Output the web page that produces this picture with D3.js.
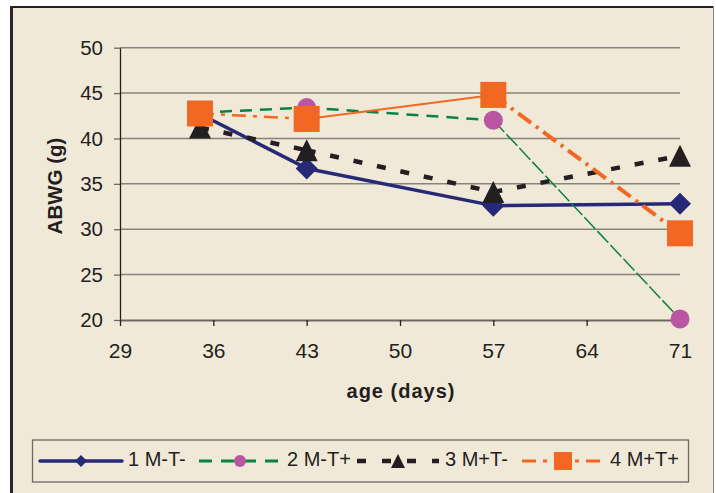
<!DOCTYPE html>
<html><head><meta charset="utf-8">
<script src="https://cdn.jsdelivr.net/npm/d3@7"></script>
<style>
body{margin:0;background:#fff;}
svg{display:block;font-family:"Liberation Sans",Arial,Helvetica,sans-serif;}
</style>
</head><body>
<svg id="c" width="716" height="493"></svg>
<script>
// ---- data ----
const ages = [35, 43, 57, 71];
const xTicks = [29, 36, 43, 50, 57, 64, 71];
const yTicks = [20, 25, 30, 35, 40, 45, 50];
const seriesNames = ["1 M-T-", "2 M-T+", "3 M+T-", "4 M+T+"];
const s1 = [42.7, 36.7, 32.6, 32.8];
const s2 = [42.85, 43.4, 42.0, 20.1];
const s3 = [41.2, 38.7, 34.1, 38.1];
const s4 = [42.75, 42.15, 44.8, 29.55];
const seriesValues = [s1, s2, s3, s4];

// ---- styles ----
const styles = [
  {color:"#262a76", marker:"diamond", fill:"#262a76",
   segs:[{w:3.5,d:null},{w:3.5,d:null},{w:3.5,d:null}], leg:{w:3.5,d:null}},
  {color:"#0b8240", marker:"circle", fill:"#b955a2",
   segs:[{w:2.5,d:"12,8"},{w:2.5,d:"12,8"},{w:1.5,d:"16,3"}], leg:{w:3,d:"13,9"}},
  {color:"#231f20", marker:"triangle", fill:"#231f20",
   segs:[{w:4.5,d:"9,15"},{w:4.5,d:"9,15"},{w:4.5,d:"9,15"}], leg:{w:4.5,d:"9,16"}},
  {color:"#f26722", marker:"square", fill:"#f26722",
   segs:[{w:2.5,d:"14,7,4,7"},{w:2,d:null},{w:4,d:"16,6,3,6"}], leg:{w:3,d:"14,7,4,7"}}
];

const svg = d3.select("#c");
const bg = "#f1e9d8";

// frame
svg.append("rect").attr("x",10).attr("y",6).attr("width",703).attr("height",500).attr("fill",bg);
svg.append("line").attr("x1",10).attr("x2",714).attr("y1",7).attr("y2",7).attr("stroke","#231f20").attr("stroke-width",2);
svg.append("line").attr("x1",11.5).attr("x2",11.5).attr("y1",6).attr("y2",493).attr("stroke","#2b2728").attr("stroke-width",3);
svg.append("line").attr("x1",713.5).attr("x2",713.5).attr("y1",6).attr("y2",493).attr("stroke","#8a8580").attr("stroke-width",1);

const x = d3.scaleLinear().domain([29, 71]).range([120, 680]);
const y = d3.scaleLinear().domain([20, 50]).range([320, 47.7]);

// gridlines
svg.append("g").selectAll("line").data(yTicks.slice(1)).join("line")
  .attr("x1", x(29)).attr("x2", x(71))
  .attr("y1", d => y(d)).attr("y2", d => y(d))
  .attr("stroke", "#87827d").attr("stroke-width", 1.5);

// y axis
const yAxis = svg.append("g").attr("transform", `translate(${x(29)},0)`)
  .call(d3.axisLeft(y).tickValues(yTicks).tickSize(6).tickPadding(11).tickSizeOuter(0));
yAxis.select(".domain").attr("stroke", "#231f20").attr("stroke-width", 1.3);
yAxis.selectAll(".tick line").attr("stroke", "#6d6862").attr("stroke-width", 1.3);
yAxis.selectAll(".tick text").attr("font-size", 20.5).attr("fill", "#231f20").attr("font-family", null);

// x axis
const xAxis = svg.append("g").attr("transform", `translate(0,${y(20)})`)
  .call(d3.axisBottom(x).tickValues(xTicks).tickSize(6).tickPadding(17).tickSizeOuter(0));
xAxis.select(".domain").attr("stroke", "#6d6862").attr("stroke-width", 2);
xAxis.selectAll(".tick line").attr("stroke", "#231f20").attr("stroke-width", 1.3);
xAxis.selectAll(".tick text").attr("font-size", 21).attr("fill", "#231f20").attr("font-family", null);

// axis titles
svg.append("text").attr("transform", "translate(62,186) rotate(-90)")
  .attr("text-anchor", "middle").attr("font-weight", "bold").attr("font-size", 20.5)
  .attr("fill", "#231f20").text("ABWG (g)");
svg.append("text").attr("x", 401).attr("y", 398)
  .attr("text-anchor", "middle").attr("font-weight", "bold").attr("font-size", 20)
  .attr("letter-spacing", 1)
  .attr("fill", "#231f20").text("age (days)");

// marker drawing
function marker(g, type, cx, cy, size, fill) {
  const h = size / 2;
  if (type === "diamond") {
    g.append("path").attr("d", `M${cx},${cy-h}L${cx+h},${cy}L${cx},${cy+h}L${cx-h},${cy}Z`).attr("fill", fill);
  } else if (type === "circle") {
    g.append("circle").attr("cx", cx).attr("cy", cy).attr("r", h).attr("fill", fill);
  } else if (type === "triangle") {
    g.append("path").attr("d", `M${cx},${cy-h}L${cx+h},${cy+h}L${cx-h},${cy+h}Z`).attr("fill", fill);
  } else {
    g.append("rect").attr("x", cx-h).attr("y", cy-h).attr("width", size).attr("height", size).attr("fill", fill);
  }
}
const mSize = {diamond:22, circle:19, triangle:22, square:26};
const lSize = {diamond:12, circle:12, triangle:14, square:18};

// series
seriesValues.forEach((vals, i) => {
  const st = styles[i];
  const g = svg.append("g");
  const pts = ages.map((a, j) => [x(a), y(vals[j])]);
  for (let j = 0; j < pts.length - 1; j++) {
    const sg = st.segs[j];
    g.append("path").attr("d", d3.line()([pts[j], pts[j+1]]))
      .attr("fill", "none").attr("stroke", st.color).attr("stroke-width", sg.w)
      .attr("stroke-dasharray", sg.d);
  }
  pts.forEach(p => marker(g, st.marker, p[0], p[1], mSize[st.marker], st.fill));
});

// legend
const lg = svg.append("g");
lg.append("rect").attr("x", 32.5).attr("y", 440).attr("width", 656).attr("height", 42)
  .attr("fill", "none").attr("stroke", "#6d6862").attr("stroke-width", 1.3);
const legStarts = [40, 199, 357, 522];
const legLen = 82;
const ly = 461;
seriesNames.forEach((name, i) => {
  const st = styles[i];
  const x0 = legStarts[i];
  lg.append("line").attr("x1", x0).attr("x2", x0 + legLen).attr("y1", ly).attr("y2", ly)
    .attr("stroke", st.color).attr("stroke-width", st.leg.w)
    .attr("stroke-dasharray", st.leg.d)
    .attr("stroke-linecap", i === 0 ? "round" : "butt");
  marker(lg, st.marker, x0 + legLen / 2, ly, lSize[st.marker], st.fill);
  lg.append("text").attr("x", x0 + legLen + 6).attr("y", 466)
    .attr("font-size", 20).attr("fill", "#231f20").text(name);
});
</script>
</body></html>
